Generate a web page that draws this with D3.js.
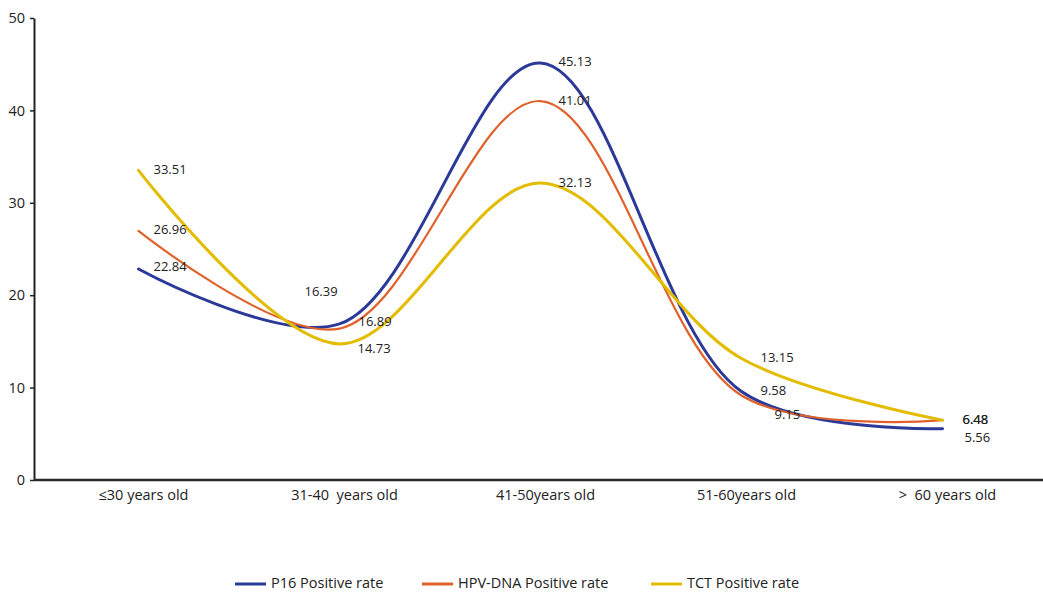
<!DOCTYPE html>
<html>
<head>
<meta charset="utf-8">
<script src="https://cdn.jsdelivr.net/npm/d3@7"></script>
<style>
  body { margin: 0; background: #fff; }
  text { font-family: "Open Sans", "DejaVu Sans", Arial, sans-serif; fill: #222; }
</style>
</head>
<body>
<div id="chart"></div>
<script>
// age groups on the x axis
const categories = ['≤30 years old', '31-40  years old', '41-50years old', '51-60years old', '>  60 years old'];

// positive rates (%)
const p16Values = [22.84, 16.89, 45.13, 9.58, 5.56];
const hpvValues = [26.96, 16.39, 41.01, 9.15, 6.48];
const tctValues = [33.51, 14.73, 32.13, 13.15, 6.48];

const yTicks = [0, 10, 20, 30, 40, 50];

// label nudges (dx, dy) per series, per point
const p16LabelOffsets = [[15, -1], [19, -1], [18, 0], [19, 0], [22, 10]];
const hpvLabelOffsets = [[15, 0], [-35, -36], [18, 0], [33, 20], [20, 0]];
const tctLabelOffsets = [[15, 0], [18, 6], [18, 0], [19, 0], [20, 0]];

(function() {
  const W = 1043, H = 595;
  const margin = { top: 18, right: 0, bottom: 115, left: 34 };
  const width = W - margin.left - margin.right;
  const height = H - margin.top - margin.bottom;

  const svg = d3.select('#chart')
    .append('svg')
    .attr('width', W)
    .attr('height', H)
    .append('g')
    .attr('transform', `translate(${margin.left}, ${margin.top})`);

  const x = d3.scaleBand().domain(categories).range([4, width]);
  const y = d3.scaleLinear().domain([0, 50]).range([height, 0]);

  const series = [
    { name: 'P16 Positive rate', values: p16Values, offsets: p16LabelOffsets, color: '#2b3a98', width: 3 },
    { name: 'HPV-DNA Positive rate', values: hpvValues, offsets: hpvLabelOffsets, color: '#e1612a', width: 2.2 },
    { name: 'TCT Positive rate', values: tctValues, offsets: tctLabelOffsets, color: '#e3bc00', width: 3 }
  ];

  // axes
  const yAxis = svg.append('g')
    .call(d3.axisLeft(y).tickValues(yTicks).tickSize(4).tickPadding(5).tickSizeOuter(0));
  yAxis.select('.domain').attr('stroke', '#222').attr('stroke-width', 2);
  yAxis.selectAll('.tick line').attr('stroke', '#222').attr('stroke-width', 1.5);
  yAxis.selectAll('.tick text')
    .style('font-size', '14.5px')
    .style('font-family', '"Open Sans", "DejaVu Sans", sans-serif')
    .attr('fill', '#333');

  const xAxis = svg.append('g')
    .attr('transform', `translate(0, ${height})`)
    .call(d3.axisBottom(x).tickSize(0).tickPadding(10));
  xAxis.select('.domain')
    .attr('d', `M0,0H${width}`)
    .attr('stroke', '#2a2a2a').attr('stroke-width', 2.5);
  xAxis.selectAll('.tick text')
    .attr('dx', 5)
    .style('font-size', '14.5px')
    .style('font-family', '"Open Sans", "DejaVu Sans", sans-serif')
    .style('white-space', 'pre')
    .attr('fill', '#222');

  const cx = c => x(c) + x.bandwidth() / 2;

  // smoothed line, close to the spreadsheet "smooth line" look
  const line = d3.line()
    .x((d, i) => cx(categories[i]))
    .y(d => y(d))
    .curve(d3.curveCatmullRom.alpha(0.5));

  series.forEach(s => {
    svg.append('path')
      .datum(s.values)
      .attr('d', line)
      .attr('fill', 'none')
      .attr('stroke', s.color)
      .attr('stroke-width', s.width)
      .attr('stroke-linecap', 'round');
  });

  // data labels
  series.forEach(s => {
    svg.selectAll(null)
      .data(s.values)
      .enter()
      .append('text')
      .attr('x', (d, i) => cx(categories[i]) + s.offsets[i][0])
      .attr('y', (d, i) => y(d) + s.offsets[i][1])
      .attr('dominant-baseline', 'middle')
      .style('font-size', '13px')
      .text(d => d.toFixed(2));
  });

  // legend
  const legendX = [235, 422, 651];
  const legend = svg.append('g')
    .attr('transform', `translate(${-margin.left}, ${584 - margin.top})`);
  const items = legend.selectAll('g')
    .data(series)
    .enter()
    .append('g')
    .attr('transform', (d, i) => `translate(${legendX[i]}, 0)`);
  items.append('line')
    .attr('x1', 0).attr('x2', 31)
    .attr('stroke', d => d.color)
    .attr('stroke-width', 3);
  items.append('text')
    .attr('x', 36)
    .attr('dominant-baseline', 'middle')
    .style('font-size', '14.5px')
    .text(d => d.name);
})();
</script>
</body>
</html>
